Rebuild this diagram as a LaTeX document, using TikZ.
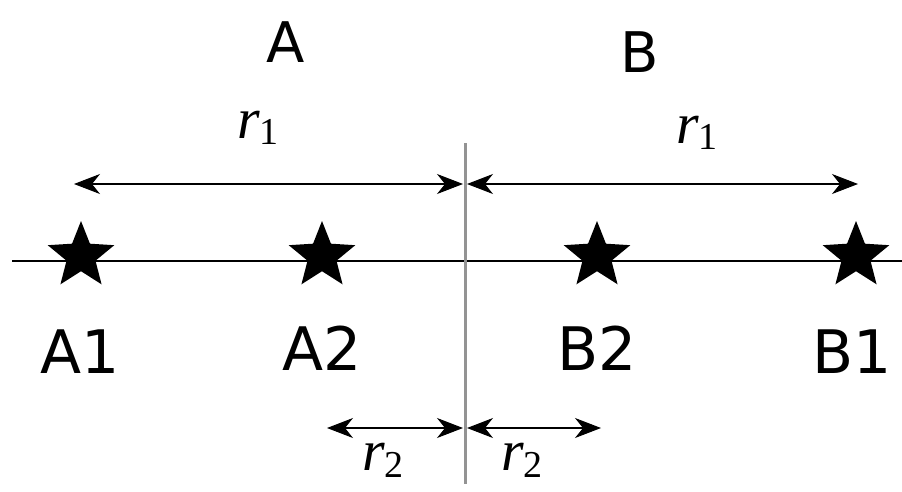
\documentclass[tikz,border=0pt]{standalone}
\usepackage{fontspec}
\setmainfont{DejaVu Sans}
\newfontfamily\rserif{Liberation Serif}
\usetikzlibrary{shapes.geometric,arrows.meta}
\begin{document}
\begin{tikzpicture}[x=1pt,y=-1pt,
  starnode/.style={star,star points=5,star point ratio=2.3,fill=black,minimum size=70pt,inner sep=0pt},
  lbl/.style={font=\fontsize{60}{66}\selectfont},
  big/.style={font=\fontsize{56}{62}\selectfont},
  rlbl/.style={font=\rserif\fontsize{58}{64}\selectfont\itshape},
  tipst/.style={},
  dim/.style={line width=2.2pt,{Stealth[length=26pt,width=20pt,inset=8pt,line width=1pt]}-{Stealth[length=26pt,width=20pt,inset=8pt,line width=1pt]}}]
\useasboundingbox (0,0) rectangle (902,491);
\coordinate (hl) at (12,261);
\coordinate (hr) at (902,261);
\coordinate (vt) at (465,143);
\coordinate (vb) at (465,484);
\draw[line width=2pt] (hl) -- (hr);
\draw[line width=3pt,gray!85] (vt) -- (vb);
\node[starnode] (a1) at (81,256) {};
\node[starnode] (a2) at (322,256) {};
\node[starnode] (b2) at (597,256) {};
\node[starnode] (b1) at (856,256) {};
\node[lbl] (la1) at (80,352) {A1};
\node[lbl] (la2) at (322,348) {A2};
\node[lbl] (lb2) at (597,348) {B2};
\node[lbl] (lb1) at (852,352) {B1};
\node[big] (A) at (286,42) {A};
\node[big] (B) at (640,52) {B};
\coordinate (t1l) at (74,184);
\coordinate (t1r) at (463,184);
\coordinate (t2l) at (467,184);
\coordinate (t2r) at (858,184);
\coordinate (s1l) at (327,428);
\coordinate (s1r) at (463,428);
\coordinate (s2l) at (467,428);
\coordinate (s2r) at (601,428);
\draw[dim] (t1l) -- (t1r);
\draw[dim] (t2l) -- (t2r);
\draw[dim] (s1l) -- (s1r);
\draw[dim] (s2l) -- (s2r);
\node[rlbl] (r1a) at (258,128) {r\raisebox{-0.25ex}{\upshape\fontsize{38}{40}\selectfont 1}};
\node[rlbl] (r1b) at (697,133) {r\raisebox{-0.25ex}{\upshape\fontsize{38}{40}\selectfont 1}};
\node[rlbl] (r2a) at (383,460) {r\raisebox{-0.25ex}{\upshape\fontsize{38}{40}\selectfont 2}};
\node[rlbl] (r2b) at (522,460) {r\raisebox{-0.25ex}{\upshape\fontsize{38}{40}\selectfont 2}};
\end{tikzpicture}
\end{document}
